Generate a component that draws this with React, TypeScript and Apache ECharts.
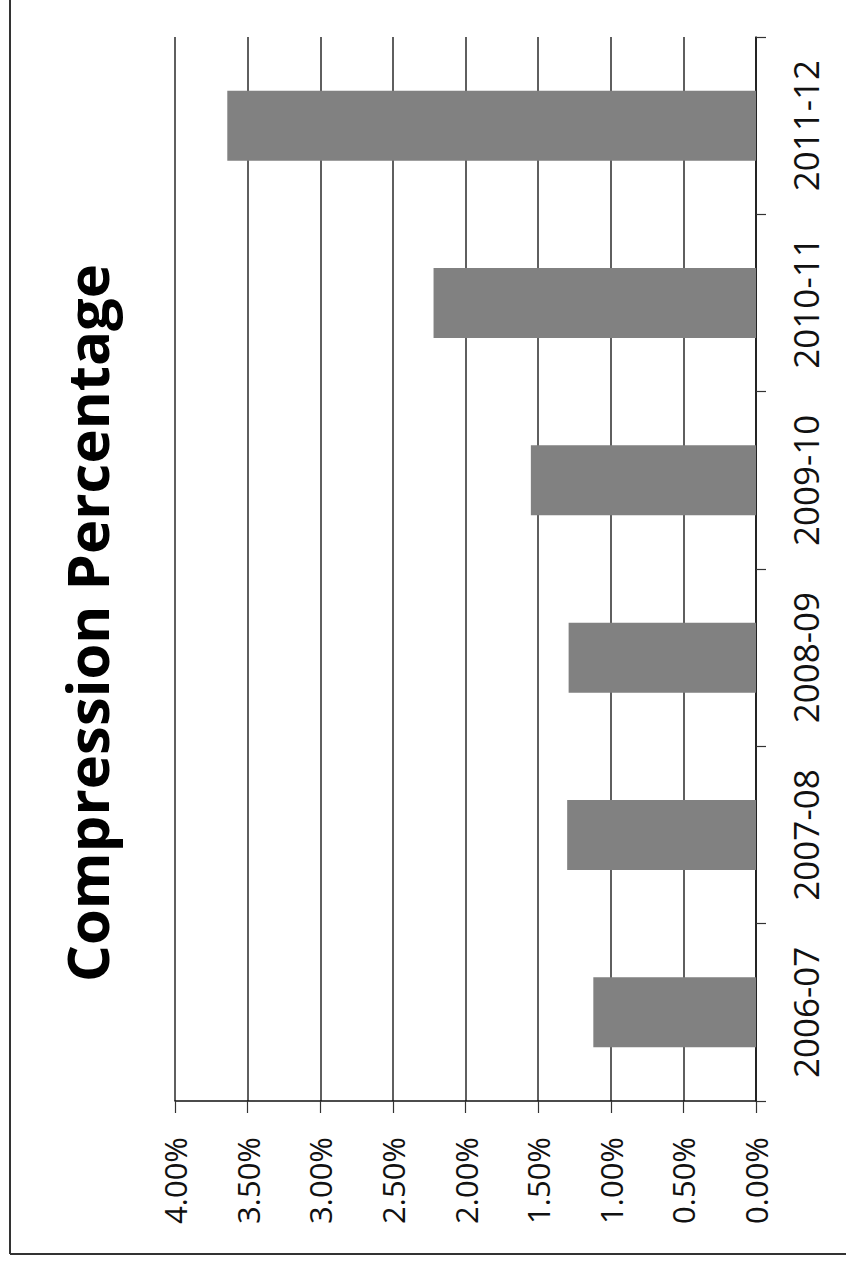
import React, { useEffect, useRef } from "react";
import * as echarts from "echarts";

const categories = ["2006-07", "2007-08", "2008-09", "2009-10", "2010-11", "2011-12"];
const compressionPct = [1.12, 1.3, 1.29, 1.55, 2.22, 3.64];
const titleText = "Compression Percentage";
const valueMin = 0;
const valueMax = 4;
const valueStep = 0.5;

export default function App() {
  const ref = useRef<HTMLDivElement>(null);
  useEffect(() => {
    if (!ref.current) return;
    const chart = echarts.init(ref.current, undefined, { renderer: "svg" });
    const font = '"Open Sans", "Noto Sans", sans-serif';
    chart.setOption({
      animation: false,
      backgroundColor: "#ffffff",
      grid: { left: 175, right: 90, top: 37, bottom: 168, containLabel: false },
      xAxis: {
        type: "value",
        inverse: true,
        min: valueMin,
        max: valueMax,
        interval: valueStep,
        position: "bottom",
        axisLine: { show: true, lineStyle: { color: "#111", width: 1.5 } },
        axisTick: { show: true, length: 12, lineStyle: { color: "#333", width: 1.2 } },
        splitLine: { show: true, lineStyle: { color: "#2a2a2a", width: 1.5 } },
        axisLabel: {
          rotate: 90,
          margin: 36,
          fontSize: 31,
          fontFamily: font,
          color: "#111",
          formatter: (v: number) => v.toFixed(2) + "%",
        },
      },
      yAxis: {
        type: "category",
        data: categories,
        position: "right",
        axisLine: { show: true, lineStyle: { color: "#111", width: 1.5 } },
        axisTick: { show: true, length: 10, lineStyle: { color: "#333", width: 1.2 } },
        axisLabel: {
          rotate: 90,
          margin: 32,
          fontSize: 35,
          fontFamily: font,
          color: "#111",
        },
      },
      series: [
        {
          type: "bar",
          data: compressionPct,
          barWidth: 70,
          itemStyle: { color: "#818181" },
        },
      ],
      graphic: [
        {
          type: "text",
          x: 86,
          y: 623,
          rotation: Math.PI / 2,
          style: {
            text: titleText,
            fontSize: 58,
            fontWeight: "bold",
            fontFamily: font,
            fill: "#000",
            align: "center",
            verticalAlign: "middle",
          },
        },
        {
          type: "line",
          shape: { x1: 10, y1: 0, x2: 10, y2: 1254 },
          style: { stroke: "#333", lineWidth: 2 },
        },
        {
          type: "line",
          shape: { x1: 10, y1: 1254, x2: 846, y2: 1254 },
          style: { stroke: "#333", lineWidth: 2 },
        },
      ],
    });
    return () => chart.dispose();
  }, []);
  return (
    <div
      ref={ref}
      style={{ position: "absolute", left: 0, top: 0, width: 846, height: 1269 }}
    />
  );
}
